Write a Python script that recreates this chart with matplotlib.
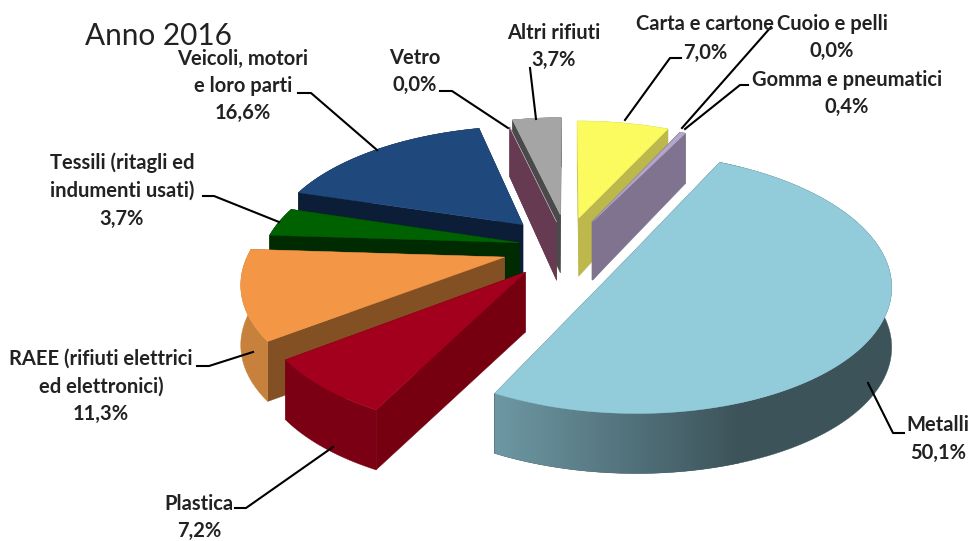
import matplotlib
matplotlib.use('Agg')
import matplotlib.pyplot as plt
from matplotlib.colors import LinearSegmentedColormap
from matplotlib.patches import Polygon
from matplotlib.path import Path
import numpy as np

plt.rcParams['font.family'] = ['Lato', 'DejaVu Sans']

names = ['Carta e cartone', 'Cuoio e pelli', 'Gomma e pneumatici', 'Metalli', 'Plastica',
         'RAEE (rifiuti elettrici\ned elettronici)', 'Tessili (ritagli ed\nindumenti usati)',
         'Veicoli, motori\ne loro parti', 'Vetro', 'Altri rifiuti']
values = [7.0, 0.0, 0.4, 50.1, 7.2, 11.3, 3.7, 16.6, 0.0, 3.7]
explode = [0.2] * 10
# extra pixel shift of each slice, the original has its own explosion per slice
nudge = [(8, -4), (11, -2), (11, -2), (20, 3), (-1, 8), (-6, 5), (9, 2), (-3, -3), (8, 0), (6, -7)]
top_colors = ['#FBFB5F', '#B4A7C8', '#B4A7C8', '#92CBDA', '#A2001C', '#F39645', '#006100', '#1F497D', '#A9A9A9', '#A5A5A5']
arc_colors = ['#BDB84B', '#7F7390', '#7F7390', '#3D535A', '#7B0013', '#C8813C', '#002A00', '#0C1D37', '#663A50', '#4A4A4A']
side_colors = ['#BDB84B', '#7F7390', '#7F7390', '#3D535A', '#760010', '#825022', '#002A00', '#0C1D37', '#663A50', '#4A4A4A']
draw_order = [7, 6, 5, 4, 9, 8, 0, 1, 2, 3]

# label text centre x, y of first line, line step
label_pos = [(705, 24, 29), (832, 24, 27), (847, 80, 27), (938, 425, 28), (199, 504, 27),
             (101, 359, 27.5), (122, 163, 28), (243, 59, 27), (415, 58, 27), (554, 33, 27)]
leaders = [[(681, 58), (670, 58), (625, 120)],
           [(771, 27), (682, 128)],
           [(748, 85), (740, 85), (685, 129)],
           [(904, 433), (893, 433), (868, 383)],
           [(235, 508), (246, 508), (333, 447)],
           [(197, 366), (209, 366), (253, 352)],
           [(203, 196), (214, 196), (279, 222)],
           [(298, 93), (311, 93), (377, 150)],
           [(440, 91), (452, 91), (508, 128)],
           [(530, 68), (536, 119)]]

X0, Y0 = 560, 245
A, B, K = 255, 122, 0.18

metal_cmap = LinearSegmentedColormap.from_list('metal', ['#6E99A5', '#3D535A'])


def project(uv, shift):
    w = 1 + K * uv[:, 1]
    return np.column_stack([X0 + shift[0] + A * uv[:, 0] / w, Y0 + shift[1] - B * uv[:, 1] / w])


def depth(v):
    return 60 - 9 * np.clip(v, 0, None)


def outline(wedge):
    pts = []
    for curve, code in wedge.get_path().iter_bezier():
        if code == Path.MOVETO:
            pts.append(curve.control_points[0])
        elif code == Path.CURVE4:
            pts.extend(curve(np.linspace(0, 1, 25))[1:])
        else:
            pts.append(curve.control_points[-1])
    return np.array(pts)


fig = plt.figure(figsize=(9.73, 5.41), dpi=100)
ax = fig.add_axes([0, 0, 1, 1])

wedges = ax.pie(values, explode=explode, startangle=90, counterclock=False, radius=1)[0]
outlines = [outline(w) for w in wedges]
for w in wedges:
    w.remove()


def wall(xy, d):
    return np.vstack([xy, (xy + np.column_stack([np.zeros(len(d)), d]))[::-1]])


def draw_walls(i):
    uv = outlines[i]
    xy = project(uv, nudge[i])
    d = depth(uv[:, 1])
    # outline is arc points, then apex, then back to the first arc point
    for q in [wall(xy[-3:-1], d[-3:-1]), wall(xy[-2:], d[-2:])]:
        ax.fill(q[:, 0], q[:, 1], color=side_colors[i], lw=0.3)
    q = wall(xy[:-2], d[:-2])
    ax.fill(q[:, 0], q[:, 1], color=arc_colors[i], lw=0.3)
    if i == 3:
        img = ax.imshow(np.linspace(0, 1, 256).reshape(1, -1), cmap=metal_cmap, aspect='auto',
                        extent=(490, 740, 541, 0), zorder=1)
        img.set_clip_path(Polygon(q, transform=ax.transData))


def draw_top(i):
    xy = project(outlines[i], nudge[i])
    ax.fill(xy[:, 0], xy[:, 1], color=top_colors[i], lw=0.3)


for i in draw_order:
    draw_walls(i)
    draw_top(i)
    if i == 8:  # the plum wall of Vetro sits under the grey top of Altri rifiuti
        draw_top(9)

for line in leaders:
    pts = np.array(line)
    ax.plot(pts[:, 0], pts[:, 1], color='black', lw=1.5, solid_joinstyle='round')

for name, val, (x, y, step) in zip(names, values, label_pos):
    lines = name.split('\n') + [f'{val:.1f}'.replace('.', ',') + '%']
    for n, s in enumerate(lines):
        ax.text(x, y + n * step, s, ha='center', va='center', fontsize=14.5, fontweight='bold', color='#222222')

ax.text(85, 36, 'Anno 2016', ha='left', va='center', fontsize=21.4, color='#222222')

ax.set_aspect('auto')
ax.set_xlim(0, 973)
ax.set_ylim(541, 0)
ax.axis('off')
fig.savefig('out.png', dpi=100)
